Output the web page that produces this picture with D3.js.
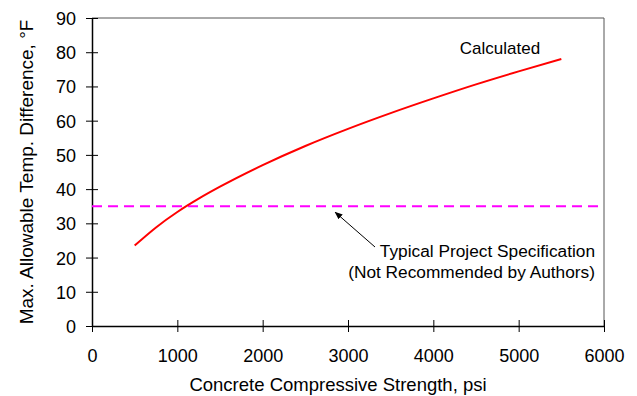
<!DOCTYPE html>
<html>
<head>
<meta charset="utf-8">
<script src="https://cdn.jsdelivr.net/npm/d3@7"></script>
<style>
  body { margin: 0; background: #fff; }
  text { font-family: "Liberation Sans", Arial, sans-serif; fill: #000; }
</style>
</head>
<body>
<svg id="chart" width="637" height="396"></svg>
<script>
// values
const strength = [500, 750, 1000, 1250, 1500, 2000, 2500, 3000, 3500, 4000, 4500, 5000, 5500];
const tempDiff = [23.5, 28.8, 33.3, 37.2, 40.7, 47.0, 52.6, 57.6, 62.2, 66.5, 70.6, 74.4, 78.0];
const specLimit = 35;
const xTicks = [0, 1000, 2000, 3000, 4000, 5000, 6000];
const yTicks = [0, 10, 20, 30, 40, 50, 60, 70, 80, 90];

const svg = d3.select("#chart");
const plotL = 92, plotR = 604, plotT = 18, plotB = 326;

const x = d3.scaleLinear().domain([0, 6000]).range([plotL, plotR]);
const y = d3.scaleLinear().domain([0, 90]).range([plotB, plotT]);

// frame (top + right)
svg.append("path")
  .attr("d", `M${plotL},${plotT}H${plotR}V${plotB}`)
  .attr("fill", "none")
  .attr("stroke", "#555")
  .attr("stroke-width", 1);

// y axis
const yAxis = svg.append("g")
  .attr("transform", `translate(${plotL},0)`)
  .call(d3.axisLeft(y).tickValues(yTicks).tickSize(6).tickSizeOuter(0));
yAxis.select(".domain").attr("stroke", "#000").attr("stroke-width", 1.5);
yAxis.selectAll(".tick line").attr("x2", 6).attr("x1", -6).attr("stroke-width", 1);
yAxis.selectAll(".tick text")
  .attr("x", -16)
  .attr("dy", "0.36em")
  .style("font-size", "18px")
  .style("font-family", "Liberation Sans, Arial, sans-serif");

// x axis
const xAxis = svg.append("g")
  .attr("transform", `translate(0,${plotB})`)
  .call(d3.axisBottom(x).tickValues(xTicks).tickFormat(d3.format("d")).tickSize(6).tickSizeOuter(0));
xAxis.select(".domain").attr("stroke", "#000").attr("stroke-width", 1.5);
xAxis.selectAll(".tick line").attr("y1", -6).attr("y2", 6).attr("stroke-width", 1);
xAxis.selectAll(".tick text")
  .attr("y", 0)
  .attr("dy", "36px")
  .style("font-size", "18px")
  .style("font-family", "Liberation Sans, Arial, sans-serif");

// spec line
svg.append("line")
  .attr("x1", x(0)).attr("x2", x(6000))
  .attr("y1", y(specLimit)).attr("y2", y(specLimit))
  .attr("stroke", "#ff00ff")
  .attr("stroke-width", 2)
  .attr("stroke-dasharray", "10,6");

// calculated curve
const line = d3.line()
  .x((d, i) => x(strength[i]))
  .y(d => y(d))
  .curve(d3.curveMonotoneX);
svg.append("path")
  .datum(tempDiff)
  .attr("d", line)
  .attr("fill", "none")
  .attr("stroke", "#ff0000")
  .attr("stroke-width", 2);

// labels
svg.append("text")
  .attr("x", 500).attr("y", 54)
  .attr("text-anchor", "middle")
  .style("font-size", "17px")
  .text("Calculated");

// arrow
svg.append("defs").append("marker")
  .attr("id", "arrow")
  .attr("viewBox", "0 0 10 10")
  .attr("refX", 9).attr("refY", 5)
  .attr("markerWidth", 8).attr("markerHeight", 8)
  .attr("orient", "auto")
  .append("path")
  .attr("d", "M0,1L10,5L0,9Z")
  .attr("fill", "#000");
svg.append("line")
  .attr("x1", 375).attr("y1", 247)
  .attr("x2", x(2850)).attr("y2", y(specLimit) + 6)
  .attr("stroke", "#000")
  .attr("stroke-width", 1)
  .attr("marker-end", "url(#arrow)");

const note = svg.append("text")
  .attr("text-anchor", "end")
  .style("font-size", "17.3px");
note.append("tspan").attr("x", 595).attr("y", 257).text("Typical Project Specification");
note.append("tspan").attr("x", 595).attr("y", 278).text("(Not Recommended by Authors)");

// axis titles
svg.append("text")
  .attr("x", 338).attr("y", 391)
  .attr("text-anchor", "middle")
  .style("font-size", "18.5px")
  .text("Concrete Compressive Strength, psi");

svg.append("text")
  .attr("transform", `translate(33,172) rotate(-90)`)
  .attr("text-anchor", "middle")
  .style("font-size", "19px")
  .text("Max. Allowable Temp. Difference, °F");
</script>
</body>
</html>
